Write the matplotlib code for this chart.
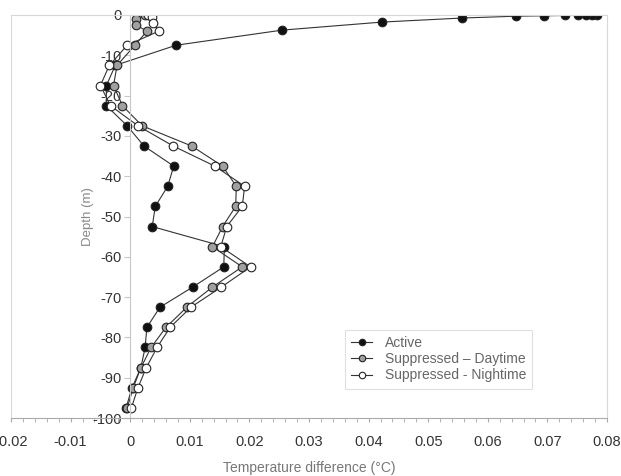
import matplotlib.pyplot as plt
import numpy as np

plt.rcParams['font.family'] = ['Liberation Sans', 'DejaVu Sans']
plt.rcParams['axes.unicode_minus'] = False

# Active profile
depth_active = [0, -0.02, -0.05, -0.08, -0.12, -0.2, -0.3, -0.75, -1.75, -3.75, -7.5,
                -12.5, -17.5, -22.5, -27.5, -32.5, -37.5, -42.5, -47.5, -52.5,
                -57.5, -62.5, -67.5, -72.5, -77.5, -82.5, -87.5, -92.5, -97.5]
temp_active = [0.0783, 0.0775, 0.0765, 0.0752, 0.073, 0.0695, 0.0647, 0.0557, 0.0423, 0.0255, 0.0077,
               -0.0025, -0.004, -0.004, -0.0005, 0.0023, 0.0073, 0.0063, 0.0042, 0.0037,
               0.0158, 0.0157, 0.0105, 0.005, 0.0028, 0.0025, 0.0018, 0.0003, -0.0007]

# Suppressed - daytime
depth_day = [0, -1, -2.5, -4, -7.5, -12.5, -17.5, -22.5, -27.5, -32.5, -37.5, -42.5, -47.5,
             -52.5, -57.5, -62.5, -67.5, -72.5, -77.5, -82.5, -87.5, -92.5, -97.5]
temp_day = [0.0025, 0.001, 0.001, 0.0028, 0.0008, -0.0022, -0.0028, -0.0013, 0.002, 0.0103,
            0.0155, 0.0178, 0.0177, 0.0155, 0.0138, 0.0188, 0.0138, 0.0095, 0.006, 0.0035,
            0.0018, 0.0005, -0.0005]

# Suppressed - nighttime
depth_night = [0, -0.5, -2, -4, -7.5, -12.5, -17.5, -22.5, -27.5, -32.5, -37.5, -42.5, -47.5,
               -52.5, -57.5, -62.5, -67.5, -72.5, -77.5, -82.5, -87.5, -92.5, -97.5]
temp_night = [0.003, 0.0037, 0.0038, 0.0048, -0.0005, -0.0035, -0.005, -0.0033, 0.0013, 0.0072,
              0.0142, 0.0192, 0.0188, 0.0162, 0.0152, 0.0202, 0.0153, 0.0102, 0.0067, 0.0045,
              0.0027, 0.0013, 0.0002]

fig = plt.figure(figsize=(6.21, 4.76), dpi=100)
ax = fig.add_axes([11 / 621, 1 - 418 / 476, 596 / 621, 403 / 476])

line_kw = dict(color='#333333', linewidth=0.8, markersize=6.2, markeredgecolor='#222222',
               markeredgewidth=0.8)
ax.plot(temp_active, depth_active, marker='o', markerfacecolor='#111111', label='Active', **line_kw)
ax.plot(temp_day, depth_day, marker='o', markerfacecolor='#a0a0a0',
        label='Suppressed \u2013 Daytime', **line_kw)
ax.plot(temp_night, depth_night, marker='o', markerfacecolor='white',
        label='Suppressed - Nightime', **line_kw)

ax.set_xlim(-0.02, 0.08)
ax.set_ylim(-100, 0)

# frame
for s in ['top', 'right']:
    ax.spines[s].set_color('#d8d8d8')
    ax.spines[s].set_linewidth(0.8)
ax.axvline(-0.02, color='#d8d8d8', linewidth=1.5, zorder=0)
ax.spines['left'].set_position(('data', 0))
ax.spines['left'].set_color('#c8c8c8')
ax.spines['left'].set_linewidth(0.8)
ax.spines['bottom'].set_color('#aaaaaa')
ax.spines['bottom'].set_linewidth(0.8)

ax.set_xticks(np.arange(-0.02, 0.081, 0.01))
ax.set_xticklabels(['-0.02', '-0.01', '0', '0.01', '0.02', '0.03', '0.04', '0.05',
                    '0.06', '0.07', '0.08'])
ax.set_xticks(np.arange(-0.02, 0.081, 0.002), minor=True)
ax.set_yticks(np.arange(-100, 1, 10))
ax.tick_params(axis='x', which='both', direction='out', length=3, color='#aaaaaa',
               labelsize=10.5, labelcolor='#333333', pad=9)
ax.tick_params(axis='y', direction='out', length=4, color='#c8c8c8',
               labelsize=10.5, labelcolor='#333333', pad=2)

ax.set_xlabel('Temperature difference (\u00b0C)', fontsize=10, color='#777777', labelpad=9)
ax.text(-0.007, -50, 'Depth (m)', rotation=90, ha='center', va='center',
        fontsize=9.5, color='#888888')

leg = ax.legend(loc='upper left', bbox_to_anchor=((338 - 11) / 596, (418 - 323) / 403),
                frameon=True, fancybox=False, fontsize=10, handlelength=1.5,
                labelspacing=0.15, borderpad=0.45, handletextpad=0.9, markerscale=0.75)
leg.get_frame().set_edgecolor('#d8d8d8')
leg.get_frame().set_linewidth(0.8)
for t in leg.get_texts():
    t.set_color('#666666')

fig.savefig('out.png', dpi=100)
